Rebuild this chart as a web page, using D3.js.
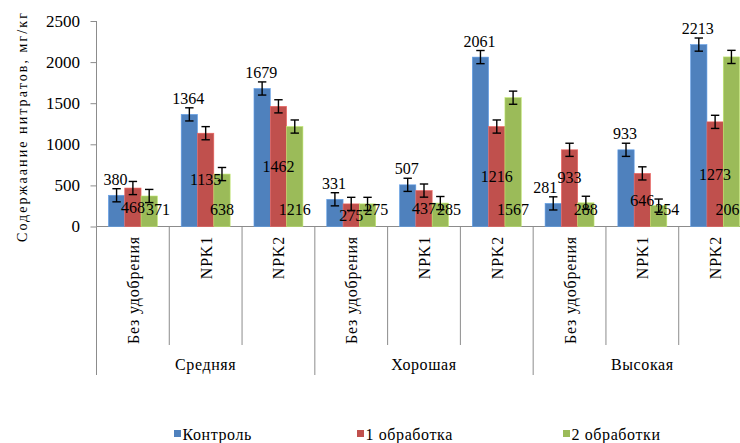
<!DOCTYPE html>
<html>
<head>
<meta charset="utf-8">
<script src="https://cdn.jsdelivr.net/npm/d3@7"></script>
<style>
  html, body { margin: 0; padding: 0; background: #fff; }
  svg { display: block; }
  text { font-family: "Liberation Serif", "Times New Roman", serif; fill: #000; }
</style>
</head>
<body>
<svg id="chart"></svg>
<script>
// Nitrate content by soil fertility level, fertilizer and treatment count
const groups = ["Средняя", "Хорошая", "Высокая"];
const treatments = ["Без удобрения", "NPK1", "NPK2"];
const seriesNames = ["Контроль", "1 обработка", "2 обработки"];
const control = [380, 1364, 1679, 331, 507, 2061, 281, 933, 2213];
const treatment1 = [468, 1135, 1462, 275, 437, 1216, 933, 646, 1273];
const treatment2 = [371, 638, 1216, 275, 285, 1567, 288, 254, 2063];
const errorMargin = 80;
const yTicks = [0, 500, 1000, 1500, 2000, 2500];
const yTitle = "Содержаание нитратов, мг/кг";

const colors = ["#4F81BD", "#C0504D", "#9BBB59"];
const values = [control, treatment1, treatment2];

const W = 740, H = 443;
const serif = "'Liberation Serif', 'Times New Roman', serif";
const svg = d3.select("#chart").attr("width", W).attr("height", H)
  .attr("font-family", serif);

const categories = [];
groups.forEach(g => treatments.forEach(t => categories.push(g + "|" + t)));

const left = 96.5, right = 751.5;
const y0 = 226.5, yTop = 21;

const x = d3.scaleBand().domain(categories).range([left, right]).padding(0);
const xs = d3.scaleBand().domain(d3.range(3)).range([0, x.bandwidth()])
  .paddingInner(0).paddingOuter(0.73);
const y = d3.scaleLinear().domain([0, 2500]).range([y0, yTop]);

const axisColor = "#8c8c8c";
const fontSize = 16;

// Y axis
const yAxis = svg.append("g").attr("transform", `translate(${left},0)`)
  .call(d3.axisLeft(y).tickValues(yTicks).tickSize(6).tickPadding(10.5).tickFormat(d3.format("d")));
yAxis.attr("font-family", serif);
yAxis.select(".domain").attr("stroke", axisColor).attr("d", `M0,${y0}V${yTop}`);
yAxis.selectAll(".tick line").attr("stroke", axisColor);
yAxis.selectAll(".tick text").attr("font-size", 17)
  .attr("font-family", serif).attr("fill", "#000");

// Y axis title
svg.append("text")
  .attr("transform", `translate(27,127.5) rotate(-90)`)
  .attr("text-anchor", "middle")
  .attr("font-size", 14)
  .attr("textLength", 229).attr("lengthAdjust", "spacing")
  .text(yTitle);

// Category axis: baseline and separators
const g = svg.append("g");
g.append("line").attr("x1", left).attr("x2", right).attr("y1", y0).attr("y2", y0)
  .attr("stroke", axisColor);
categories.forEach((c, i) => {
  const xx = x(c);
  g.append("line").attr("x1", xx).attr("x2", xx).attr("y1", y0)
    .attr("y2", i % 3 === 0 ? 375 : 345).attr("stroke", axisColor);
});
g.append("line").attr("x1", right).attr("x2", right).attr("y1", y0).attr("y2", 375)
  .attr("stroke", axisColor);

// Treatment labels (rotated)
categories.forEach((c, i) => {
  const cx = x(c) + x.bandwidth() / 2;
  svg.append("text")
    .attr("transform", `translate(${cx + 6},${236}) rotate(-90)`)
    .attr("text-anchor", "end")
    .attr("font-size", fontSize)
    .attr("letter-spacing", 0.8)
    .text(treatments[i % 3]);
});

// Fertility level labels
groups.forEach((grp, gi) => {
  const x1 = x(categories[gi * 3]);
  const x2 = x(categories[gi * 3 + 2]) + x.bandwidth();
  svg.append("text")
    .attr("x", (x1 + x2) / 2).attr("y", 370)
    .attr("text-anchor", "middle")
    .attr("font-size", fontSize)
    .attr("letter-spacing", 0.6)
    .text(grp);
});

// Bars
const bars = svg.append("g");
values.forEach((series, si) => {
  series.forEach((v, ci) => {
    const bx = x(categories[ci]) + xs(si);
    bars.append("rect")
      .attr("x", bx).attr("y", y(v))
      .attr("width", xs.bandwidth()).attr("height", y0 - y(v))
      .attr("fill", colors[si])
      .attr("stroke", d3.color(colors[si]).brighter(0.6)).attr("stroke-width", 0.6);
  });
});

// Error bars
const err = svg.append("g").attr("stroke", "#000").attr("stroke-width", 1.4);
values.forEach((series, si) => {
  series.forEach((v, ci) => {
    const cx = x(categories[ci]) + xs(si) + xs.bandwidth() / 2;
    const hi = y(v + errorMargin), lo = y(v - errorMargin);
    const cap = 4.2;
    err.append("line").attr("x1", cx).attr("x2", cx).attr("y1", hi).attr("y2", lo);
    err.append("line").attr("x1", cx - cap).attr("x2", cx + cap).attr("y1", hi).attr("y2", hi);
    err.append("line").attr("x1", cx - cap).attr("x2", cx + cap).attr("y1", lo).attr("y2", lo);
  });
});

// Value labels: control above the bar, first treatment centred, second near the base
const labels = svg.append("g").attr("font-size", fontSize).attr("text-anchor", "middle");
const labelNodes = values.map((series, si) => series.map((v, ci) => {
  const cx = x(categories[ci]) + xs(si) + xs.bandwidth() / 2;
  let cy;
  if (si === 0) cy = y(v) - 16;
  else if (si === 1) cy = y(v / 2);
  else cy = y0 - 17;
  return labels.append("text")
    .attr("x", si === 0 ? cx - 1 : cx).attr("y", cy).attr("dy", "0.35em")
    .text(v);
}));

// Nudge labels of the same category apart where they collide
function box(t) { return t.node().getBBox(); }
function hit(a, b) {
  return a.x < b.x + b.width && b.x < a.x + a.width &&
         a.y < b.y + b.height - 4 && b.y < a.y + a.height - 4;
}
categories.forEach((c, ci) => {
  const [b, r, gr] = [labelNodes[0][ci], labelNodes[1][ci], labelNodes[2][ci]];
  if (hit(box(b), box(r))) {
    b.attr("x", +b.attr("x") - 7);
    r.attr("y", +b.attr("y") - 10);
  }
  const rb = box(r), gb = box(gr);
  if (hit(rb, gb)) {
    const over = rb.x + rb.width - gb.x;
    gr.attr("x", +gr.attr("x") + Math.min(over + 1, 9));
  }
});

// Legend
const legendX = [174, 357, 563];
const legend = svg.append("g");
seriesNames.forEach((name, i) => {
  legend.append("rect")
    .attr("x", legendX[i]).attr("y", 430)
    .attr("width", 7).attr("height", 7)
    .attr("fill", colors[i]);
  legend.append("text")
    .attr("x", legendX[i] + 8.5).attr("y", 440)
    .attr("font-size", fontSize)
    .attr("letter-spacing", 0.6)
    .text(name);
});
</script>
</body>
</html>
